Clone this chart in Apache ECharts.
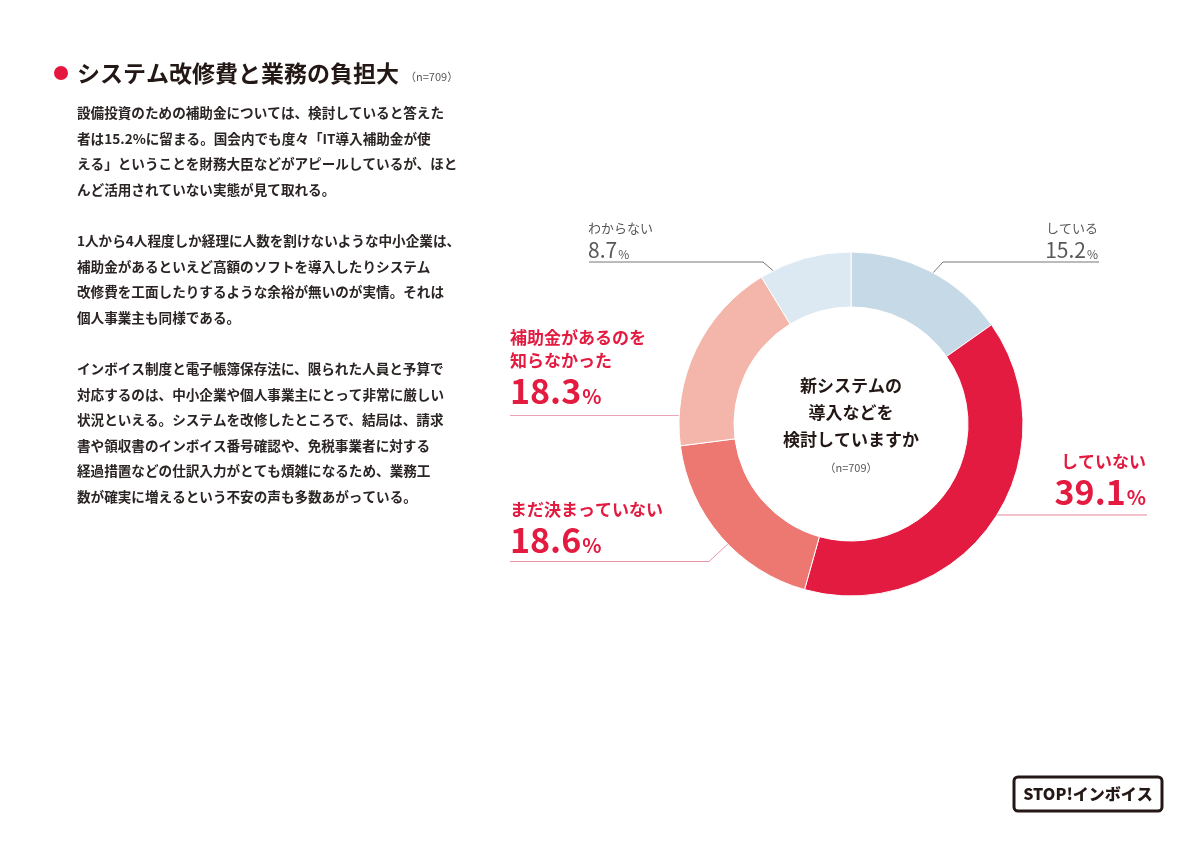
<!DOCTYPE html>
<html lang="ja">
<head>
<meta charset="utf-8">
<title>システム改修費と業務の負担大</title>
<script src="https://cdn.jsdelivr.net/npm/echarts@6/dist/echarts.min.js"></script>
<style>
  html, body { margin: 0; padding: 0; background: #fff; }
  #chart { width: 1200px; height: 849px; }
</style>
</head>
<body>
<div id="chart"></div>
<script>
// answers, clockwise from 12 o'clock
var answers = ['している', 'していない', 'まだ決まっていない', '補助金があるのを\n知らなかった', 'わからない'];
var shares = [15.2, 39.1, 18.6, 18.3, 8.7];
var sampleSize = 709;
var question = ['新システムの', '導入などを', '検討していますか'];
var heading = 'システム改修費と業務の負担大';
var bodyLines = [
  '設備投資のための補助金については、検討していると答えた',
  '者は15.2%に留まる。国会内でも度々「IT導入補助金が使',
  'える」ということを財務大臣などがアピールしているが、ほと',
  'んど活用されていない実態が見て取れる。',
  '',
  '1人から4人程度しか経理に人数を割けないような中小企業は、',
  '補助金があるといえど高額のソフトを導入したりシステム',
  '改修費を工面したりするような余裕が無いのが実情。それは',
  '個人事業主も同様である。',
  '',
  'インボイス制度と電子帳簿保存法に、限られた人員と予算で',
  '対応するのは、中小企業や個人事業主にとって非常に厳しい',
  '状況といえる。システムを改修したところで、結局は、請求',
  '書や領収書のインボイス番号確認や、免税事業者に対する',
  '経過措置などの仕訳入力がとても煩雑になるため、業務工',
  '数が確実に増えるという不安の声も多数あがっている。'
];

var FONT = '"Noto Sans CJK JP", "Noto Sans", sans-serif';
var INK = '#231815';
var GREY = '#595757';
var RED = '#e31b41';
var sliceColors = ['#c6d9e6', '#e31b41', '#ec7871', '#f4b6ab', '#dde9f2'];
var lineColors = ['#767676', '#e6849a', '#e995a9', '#eba3b6', '#767676'];
var bigLabel = [false, true, true, true, false];

// where each outside label sits and how its leader line runs
var labelPlaces = [
  { x: 1098, y: 217, align: 'right', line: [[931, 275], [943, 262], [1099, 262]] },
  { x: 1146, y: 450, align: 'right', line: [[995, 515], [1147, 515]] },
  { x: 510, y: 498, align: 'left', line: [[730, 542], [709, 561.5], [510, 561.5]] },
  { x: 510, y: 326, align: 'left', line: [[683, 415.5], [510, 415.5]] },
  { x: 588, y: 217, align: 'left', line: [[777, 274], [763, 262], [589, 262]] }
];

var chart = echarts.init(document.getElementById('chart'));

var pieData = answers.map(function (name, i) {
  return {
    name: name,
    value: shares[i],
    itemStyle: { color: sliceColors[i] },
    labelLine: { lineStyle: { color: lineColors[i] } }
  };
});

function labelText(p) {
  var lines = p.name.split('\n');
  if (bigLabel[p.dataIndex]) {
    return lines.map(function (l) { return '{rn|' + l + '}'; }).join('\n') +
      '\n{rv|' + p.value.toFixed(1) + '}{rp|%}';
  }
  return '{gn|' + p.name + '}\n{gv|' + p.value.toFixed(1) + '}{gp|%}';
}

var option = {
  backgroundColor: '#fff',
  animation: false,
  textStyle: { fontFamily: FONT },
  series: [{
    type: 'pie',
    center: [851, 424],
    radius: [117, 172],
    startAngle: 90,
    clockwise: true,
    avoidLabelOverlap: false,
    silent: true,
    itemStyle: { borderColor: '#fff', borderWidth: 1 },
    label: {
      show: true,
      position: 'outside',
      formatter: labelText,
      rich: {
        gn: { fontFamily: FONT, fontSize: 13, color: GREY, lineHeight: 22 },
        gv: { fontFamily: FONT, fontSize: 21, color: GREY, lineHeight: 22, verticalAlign: 'bottom' },
        gp: { fontFamily: FONT, fontSize: 12, color: GREY, lineHeight: 22, verticalAlign: 'bottom', padding: [0, 0, 1, 1] },
        rn: { fontFamily: FONT, fontSize: 17, fontWeight: 'bold', color: RED, lineHeight: 23 },
        rv: { fontFamily: FONT, fontSize: 34, fontWeight: 'bold', color: RED, lineHeight: 36, verticalAlign: 'bottom' },
        rp: { fontFamily: FONT, fontSize: 20, fontWeight: 'bold', color: RED, lineHeight: 36, verticalAlign: 'bottom', padding: [0, 0, 2, 1] }
      }
    },
    labelLine: { show: true, length: 10, length2: 10, lineStyle: { width: 1 } },
    labelLayout: function (p) {
      var place = labelPlaces[p.dataIndex];
      return {
        x: place.x,
        y: place.y,
        align: place.align,
        verticalAlign: 'top',
        labelLinePoints: place.line
      };
    },
    data: pieData
  }],
  graphic: [
    { type: 'circle', shape: { cx: 61, cy: 73, r: 7 }, style: { fill: '#e6173f' } },
    {
      type: 'text', x: 77, y: 73,
      style: { text: heading, fontFamily: FONT, fontSize: 23, fontWeight: 'bold', fill: INK, verticalAlign: 'middle' }
    },
    {
      type: 'text', x: 405, y: 77,
      style: { text: '（n=' + sampleSize + '）', fontFamily: FONT, fontSize: 11, fill: GREY, verticalAlign: 'middle' }
    },
    {
      type: 'text', x: 77, y: 100,
      style: { text: bodyLines.join('\n'), fontFamily: FONT, fontSize: 13.6, fontWeight: 'bold', lineHeight: 25.6, fill: '#2b2424', verticalAlign: 'top' }
    },
    {
      type: 'text', x: 851, y: 372.5,
      style: { text: question.join('\n'), fontFamily: FONT, fontSize: 17, fontWeight: 'bold', lineHeight: 27, fill: INK, align: 'center', verticalAlign: 'top' }
    },
    {
      type: 'text', x: 851, y: 468,
      style: { text: '（n=' + sampleSize + '）', fontFamily: FONT, fontSize: 11, fill: GREY, align: 'center', verticalAlign: 'middle' }
    },
    {
      type: 'rect', shape: { x: 1014, y: 777, width: 148, height: 34, r: 4 },
      style: { fill: '#fff', stroke: INK, lineWidth: 3 }
    },
    {
      type: 'text', x: 1088, y: 794,
      style: { text: 'STOP!インボイス', fontFamily: FONT, fontSize: 16, fontWeight: 900, fill: INK, align: 'center', verticalAlign: 'middle' }
    }
  ]
};

chart.setOption(option);
</script>
</body>
</html>
